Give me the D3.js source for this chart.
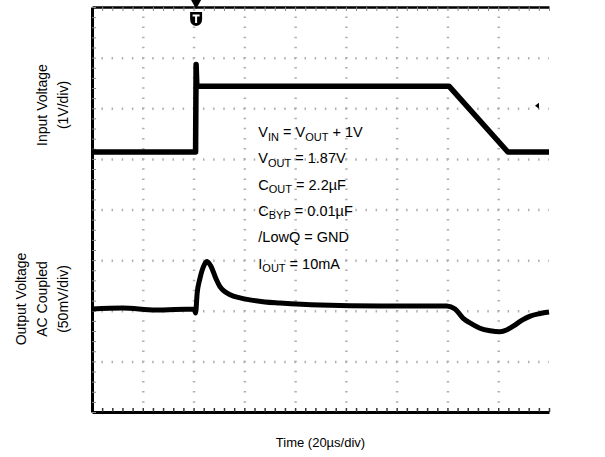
<!DOCTYPE html>
<html>
<head>
<meta charset="utf-8">
<script src="https://cdn.jsdelivr.net/npm/d3@7"></script>
<style>
  body { margin: 0; background: #fff; }
  text { font-family: 'Liberation Sans', Arial, sans-serif; fill: #000; }
</style>
</head>
<body>
<div id="viz"></div>
<script>
// time axis, 20us/div, 9 divisions shown
var timeTicks = [0, 20, 40, 60, 80, 100, 120, 140, 160, 180]
var divTicks = [0, 1, 2, 3, 4, 5, 6, 7, 8]

// input voltage trace (V, 1V/div)
var inTime = [0, 40.8, 41.0, 41.3, 41.8, 140.6, 163.8, 180]
var inVolts = [2.87, 2.87, 4.6, 4.17, 4.17, 4.17, 2.87, 2.87]

// output voltage trace, AC coupled (mV, 50mV/div)
var outTime = [0, 12, 25, 40.2, 40.8, 41.4, 42.5, 44.1, 45.3, 46.9, 48.8, 50.4, 52.4, 54.4,
               58.3, 62.2, 68.1, 74.0, 89.8, 113.4, 139.8, 143, 146.1, 149.7, 152.8, 156.8,
               160.7, 163.5, 165.9, 169.4, 172.6, 176.5, 180]
var outMv = [0, 1, -1, 0, -4, 15, 30, 43, 47, 42, 30, 22, 17, 14,
             11, 9, 7, 6, 4, 3, 3, 0, -9, -15, -19, -21.5,
             -22.5, -20.5, -17, -11, -7, -4.5, -3]

var inOffset = 2.266,   // divisions from bottom to 0V of ch1
    outOffset = 2.035,  // divisions from bottom to 0mV of ch2
    trigTime = 41,
    trigLevel = 6.05    // divisions

var notes = [
  [['V', 0], ['IN', 1], [' = V', 0], ['OUT', 1], [' + 1V', 0]],
  [['V', 0], ['OUT', 1], [' = 1.87V', 0]],
  [['C', 0], ['OUT', 1], [' = 2.2\u00b5F', 0]],
  [['C', 0], ['BYP', 1], [' = 0.01\u00b5F', 0]],
  [['/LowQ = GND', 0]],
  [['I', 0], ['OUT', 1], [' = 10mA', 0]]
]

var margin = { top: 7, right: 56, bottom: 45, left: 92 },
    width = 605 - margin.left - margin.right,
    height = 457 - margin.top - margin.bottom

var x = d3.scaleLinear().domain([0, 180]).range([0, width]),
    y = d3.scaleLinear().domain([0, 8]).range([height, 0])

var minorT = d3.range(0, 180.01, 4),
    minorD = d3.range(0, 8.01, 0.2)

var svg = d3.select('#viz').append('svg')
    .attr('width', 605)
    .attr('height', 457)

var g = svg.append('g')
    .attr('transform', 'translate(' + margin.left + ',' + margin.top + ')')

var stepX = x(4) - x(0),
    stepY = y(0) - y(0.2)

// dotted graticule
g.append('g')
    .attr('transform', 'translate(0,' + height + ')')
    .call(d3.axisBottom(x).tickValues(timeTicks.slice(1, -1)).tickSize(-height).tickFormat(''))
    .call(function(s) {
      s.select('.domain').remove()
      s.selectAll('line')
        .attr('stroke', '#b0b0b0')
        .attr('stroke-width', 2.5)
        .attr('stroke-dasharray', '1.5,' + (stepY - 1.5))
        .attr('stroke-dashoffset', 0.75)
    })

g.append('g')
    .call(d3.axisLeft(y).tickValues(divTicks.slice(1, -1)).tickSize(-width).tickFormat(''))
    .call(function(s) {
      s.select('.domain').remove()
      s.selectAll('line')
        .attr('stroke', '#b0b0b0')
        .attr('stroke-width', 2.5)
        .attr('stroke-dasharray', '1.5,' + (stepX - 1.5))
        .attr('stroke-dashoffset', 0.75)
    })

// frame with minor ticks
g.append('g')
    .call(d3.axisTop(x).tickValues(minorT).tickSize(-4).tickSizeOuter(0).tickFormat(''))
    .call(function(s) {
      s.select('.domain').attr('stroke-width', 2.5)
      s.selectAll('line').attr('stroke', '#888')
    })

g.append('g')
    .attr('transform', 'translate(0,' + height + ')')
    .call(d3.axisBottom(x).tickValues(minorT).tickSize(-4).tickSizeOuter(0).tickFormat(''))
    .call(function(s) {
      s.select('.domain').attr('stroke-width', 3)
      s.selectAll('line').attr('stroke', '#333').attr('stroke-width', 1.5)
    })

g.append('g')
    .call(d3.axisLeft(y).tickValues(minorD).tickSize(-4).tickSizeOuter(0).tickFormat(''))
    .call(function(s) {
      s.select('.domain').attr('stroke-width', 3)
      s.selectAll('line').attr('stroke', '#888')
    })

// traces
var line = d3.line()
    .x(function(d) { return x(d.t) })
    .y(function(d) { return y(d.v) })

var inData = inTime.map(function(t, i) { return { t: t, v: inVolts[i] + inOffset } }),
    outData = outTime.map(function(t, i) { return { t: t, v: outMv[i] / 50 + outOffset } })

g.append('path')
    .datum(inData)
    .attr('d', line)
    .attr('fill', 'none')
    .attr('stroke', '#000')
    .attr('stroke-width', 5.5)
    .attr('stroke-linejoin', 'round')

g.append('path')
    .datum(outData)
    .attr('d', d3.line().curve(d3.curveMonotoneX).x(function(d) { return x(d.t) }).y(function(d) { return y(d.v) }))
    .attr('fill', 'none')
    .attr('stroke', '#000')
    .attr('stroke-width', 5)
    .attr('stroke-linejoin', 'round')

// trigger markers
var tx = x(trigTime)
svg.append('path')
    .attr('d', 'M' + (margin.left + tx - 5) + ',0L' + (margin.left + tx + 5) + ',0L' + (margin.left + tx) + ',9Z')
    .attr('fill', '#000')
g.append('path')
    .attr('d', 'M' + (tx - 6) + ',5H' + (tx + 6) + 'V12Q' + (tx + 6) + ',18 ' + tx + ',19Q' + (tx - 6) + ',18 ' + (tx - 6) + ',12Z')
    .attr('fill', '#000')
g.append('path')
    .attr('d', 'M' + (tx - 3.5) + ',8.5H' + (tx + 3.5) + 'M' + tx + ',8.5V16')
    .attr('stroke', '#fff')
    .attr('stroke-width', 2)

var ty = y(trigLevel)
g.append('path')
    .attr('d', 'M' + (width - 14) + ',' + ty + 'L' + (width - 10) + ',' + (ty - 3) + 'L' + (width - 10) + ',' + (ty + 3) + 'Z')
    .attr('fill', '#000')

// conditions
var noteText = g.append('g')
    .attr('transform', 'translate(' + (x(65.5)) + ',' + 130 + ')')
    .selectAll('text').data(notes)
    .enter().append('text')
    .attr('y', function(d, i) { return i * 26.3 })
    .style('font-size', '14.5px')

noteText.selectAll('tspan').data(function(d) { return d })
    .enter().append('tspan')
    .text(function(d) { return d[0] })
    .style('font-size', function(d) { return d[1] ? '11px' : '14.5px' })
    .attr('dy', function(d, i, nodes) {
      var prev = i > 0 ? d3.select(nodes[i - 1]).datum()[1] : 0
      if (d[1] && !prev) return 3.5
      if (!d[1] && prev) return -3.5
      return 0
    })

// axis titles
svg.append('text')
    .attr('x', margin.left + width / 2)
    .attr('y', 447)
    .attr('text-anchor', 'middle')
    .style('font-size', '13px')
    .text('Time (20\u00b5s/div)')

var leftLabels = [
  { cy: 105, lines: ['Input Voltage', '(1V/div)'], cx: [42, 63] },
  { cy: 299, lines: ['Output Voltage', 'AC Coupled', '(50mV/div)'], cx: [21, 42, 63] }
]

leftLabels.forEach(function(l) {
  l.lines.forEach(function(s, i) {
    svg.append('text')
      .attr('transform', 'translate(' + l.cx[i] + ',' + l.cy + ') rotate(-90)')
      .attr('text-anchor', 'middle')
      .attr('dy', '0.35em')
      .style('font-size', '14px')
      .text(s)
  })
})
</script>
</body>
</html>
